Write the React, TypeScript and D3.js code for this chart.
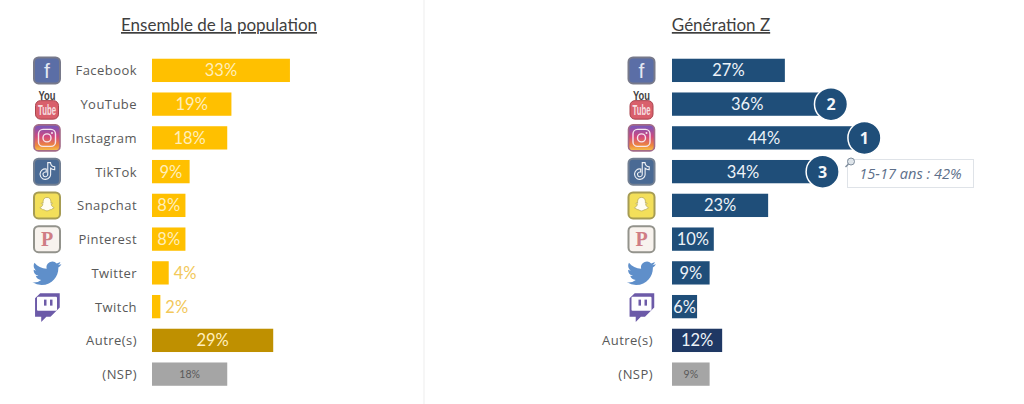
import { scaleBand, scaleLinear } from "d3";

const width = 1024;
const height = 404;

const categories = ["Facebook", "YouTube", "Instagram", "TikTok", "Snapchat", "Pinterest", "Twitter", "Twitch", "Autre(s)", "(NSP)"];
const populationValues = [33, 19, 18, 9, 8, 8, 4, 2, 29, 18];
const genZValues = [27, 36, 44, 34, 23, 10, 9, 6, 12, 9];
const genZLabels = ["Autre(s)", "(NSP)"];
const genZRanks = [
  { category: "Instagram", rank: 1 },
  { category: "YouTube", rank: 2 },
  { category: "TikTok", rank: 3 },
];
const calloutText = "15-17 ans : 42%";

const labelFont = "'Open Sans', sans-serif";
const valueFont = "Lato, sans-serif";

const y = scaleBand<string>().domain(categories).range([53.5, 391]).paddingInner(0.31).paddingOuter(0.155);
const x = scaleLinear().domain([0, 10]).range([0, 41.8]);

const TWITTER = "M23.953 4.57a10 10 0 01-2.825.775 4.958 4.958 0 002.163-2.723c-.951.555-2.005.959-3.127 1.184a4.92 4.92 0 00-8.384 4.482C7.69 8.095 4.067 6.13 1.64 3.162a4.822 4.822 0 00-.666 2.475c0 1.71.87 3.213 2.188 4.096a4.904 4.904 0 01-2.228-.616v.06a4.923 4.923 0 003.946 4.827 4.996 4.996 0 01-2.212.085 4.936 4.936 0 004.604 3.417 9.867 9.867 0 01-6.102 2.105c-.39 0-.779-.023-1.17-.067a13.995 13.995 0 007.557 2.209c9.053 0 13.998-7.496 13.998-13.985 0-.21 0-.42-.015-.63A9.935 9.935 0 0024 4.59z";
const TIKTOK = "M12.525.02c1.31-.02 2.61-.01 3.91-.02.08 1.53.63 3.09 1.75 4.17 1.12 1.11 2.7 1.62 4.24 1.79v4.03c-1.44-.05-2.89-.35-4.2-.97-.57-.26-1.1-.59-1.62-.93-.01 2.92.01 5.84-.02 8.75-.08 1.4-.54 2.79-1.35 3.94-1.31 1.92-3.58 3.17-5.91 3.21-1.43.08-2.86-.31-4.08-1.03-2.02-1.19-3.44-3.37-3.65-5.71-.02-.5-.03-1-.01-1.49.18-1.9 1.12-3.72 2.58-4.96 1.66-1.44 3.98-2.13 6.15-1.72.02 1.48-.04 2.96-.04 4.44-.99-.32-2.15-.23-3.02.37-.63.41-1.11 1.04-1.36 1.75-.21.51-.15 1.07-.14 1.61.24 1.64 1.82 3.02 3.5 2.87 1.12-.01 2.19-.66 2.77-1.61.19-.33.4-.67.41-1.06.1-1.79.06-3.57.07-5.36.01-4.03-.01-8.05.02-12.07z";
const GHOST = "M12 2c3.2 0 5.2 2.4 5.2 5.4v2.4l1.8-.4c.6 0 .8.8.2 1.1l-1.7.9c.5 1.9 1.9 3.4 3.7 4.1.5.2.4.8-.1 1-.9.3-1.8.4-2.2.7-.3.4-.1 1-.7 1.1-1.1.1-2 0-3 .6-.8.5-1.7 1.2-3.2 1.2s-2.4-.7-3.2-1.2c-1-.6-1.9-.5-3-.6-.6-.1-.4-.7-.7-1.1-.4-.3-1.3-.4-2.2-.7-.5-.2-.6-.8-.1-1 1.8-.7 3.2-2.2 3.7-4.1l-1.7-.9c-.6-.3-.4-1.1.2-1.1l1.8.4V7.4C6.8 4.4 8.8 2 12 2z";
const TWITCH = "M6 0L1.714 4.286v15.428h5.143V24l4.286-4.286h3.428L22.286 12V0z";

const Tile = ({ fill, stroke, sw = 1.6 }: { fill: string; stroke: string; sw?: number }) => (
  <rect x={-13} y={-13} width={26} height={26} rx={4.5} fill={fill} stroke={stroke} strokeWidth={sw} />
);

const Icon = ({ name, cx, cy }: { name: string; cx: number; cy: number }) => {
  let body = null;
  if (name === "Facebook") {
    body = (
      <>
        <Tile fill="#5b6ea6" stroke="#77798a" sw={2} />
        <text y={8} textAnchor="middle" fontFamily="'Liberation Sans', sans-serif" fontSize={21} fill="#e4e8f2">f</text>
      </>
    );
  } else if (name === "YouTube") {
    body = (
      <>
        <text y={-4.5} textAnchor="middle" fontFamily="'Liberation Sans', sans-serif" fontWeight={700} fontSize={13.5} fill="#454242" textLength={17} lengthAdjust="spacingAndGlyphs">You</text>
        <rect x={-11.5} y={-3.5} width={23} height={18.5} rx={5} fill="#d9606c" stroke="#a8454f" strokeWidth={1} />
        <text y={11} textAnchor="middle" fontFamily="'Liberation Sans', sans-serif" fontWeight={700} fontSize={14} fill="#f6dfe1" textLength={18} lengthAdjust="spacingAndGlyphs">Tube</text>
      </>
    );
  } else if (name === "Instagram") {
    body = (
      <>
        <Tile fill="url(#insta)" stroke="#a26a86" />
        <rect x={-8.5} y={-8.5} width={17} height={17} rx={4.5} fill="none" stroke="#f6e6ee" strokeWidth={1.4} />
        <circle r={4} fill="none" stroke="#f6e6ee" strokeWidth={1.4} />
        <circle cx={5} cy={-5} r={1} fill="#f6e6ee" />
      </>
    );
  } else if (name === "TikTok") {
    body = (
      <>
        <Tile fill="#4a6a94" stroke="#727f92" sw={2} />
        <path d={TIKTOK} transform="translate(-8,-9) scale(0.7)" fill="none" stroke="#eef1f5" strokeWidth={1.6} />
      </>
    );
  } else if (name === "Snapchat") {
    body = (
      <>
        <Tile fill="#f3df5a" stroke="#a69c54" sw={2} />
        <path d={GHOST} transform="translate(-9,-9.5) scale(0.75)" fill="#fffdf2" stroke="#b5a95c" strokeWidth={1} />
      </>
    );
  } else if (name === "Pinterest") {
    body = (
      <>
        <Tile fill="#f8f3ee" stroke="#93938c" sw={2} />
        <text y={7} textAnchor="middle" fontFamily="'Liberation Serif', serif" fontWeight={700} fontSize={20} fill="#cf7d84">P</text>
      </>
    );
  } else if (name === "Twitter") {
    body = <path d={TWITTER} transform="translate(-14.5,-14) scale(1.2)" fill="#5f8fca" />;
  } else if (name === "Twitch") {
    body = (
      <>
        <path d={TWITCH} transform="translate(-14,-13.5) scale(1.2)" fill="#6c5aa8" />
        <rect x={-10} y={-10} width={20} height={14} rx={1} fill="#fdfdff" />
        <rect x={-3} y={-7} width={2.5} height={6} fill="#6c5aa8" />
        <rect x={3} y={-7} width={2.5} height={6} fill="#6c5aa8" />
      </>
    );
  }
  return <g transform={`translate(${cx},${cy})`}>{body}</g>;
};

const barColor = (cat: string, main: string, other: string) =>
  cat === "(NSP)" ? "#a5a5a5" : cat === "Autre(s)" ? other : main;

const Panel = ({
  title, titleX, values, labels, barX, iconX, labelX, main, other, valueColor, outsideColor,
}: {
  title: string; titleX: number; values: number[]; labels: string[]; barX: number; iconX: number; labelX: number;
  main: string; other: string; valueColor: string; outsideColor: string;
}) => (
  <g>
    <text x={titleX} y={31} textAnchor="middle" fontFamily={valueFont} fontSize={17} fill="#3f3f3f" textDecoration="underline">{title}</text>
    {categories.map((cat, i) => {
      const v = values[i];
      const top = y(cat)!;
      const h = y.bandwidth();
      const cy = top + h / 2;
      const w = x(v);
      const nsp = cat === "(NSP)";
      const outside = w < 20;
      return (
        <g key={cat}>
          <Icon name={cat} cx={iconX} cy={cy} />
          {labels.includes(cat) && (
            <text x={labelX} y={cy + 5} textAnchor="end" fontFamily={labelFont} fontSize={13} letterSpacing={0.45} fill="#595959">
              {cat}
            </text>
          )}
          <rect x={barX} y={top} width={w} height={h} fill={barColor(cat, main, other)} />
          <text
            x={outside ? barX + w + 5 : barX + w / 2}
            y={cy + (nsp ? 4 : 6)}
            textAnchor={outside ? "start" : "middle"}
            fontFamily={valueFont}
            fontSize={nsp ? 10.5 : 16.5}
            fill={nsp ? "#595959" : outside ? outsideColor : valueColor}
          >
            {v}%
          </text>
        </g>
      );
    })}
  </g>
);

export default function App() {
  const genZX = 672;
  return (
    <svg width={width} height={height} style={{ position: "absolute", left: 0, top: 0, background: "#fff" }}>
      <defs>
        <linearGradient id="insta" x1="0" y1="0" x2="0" y2="1">
          <stop offset="0" stopColor="#6f58c0" />
          <stop offset="0.45" stopColor="#d2487f" />
          <stop offset="0.8" stopColor="#ee8a3c" />
          <stop offset="1" stopColor="#f6c64f" />
        </linearGradient>
      </defs>
      <line x1={424} x2={424} y1={0} y2={height} stroke="#ededed" />
      <Panel title="Ensemble de la population" titleX={219} values={populationValues} labels={categories} barX={152} iconX={47} labelX={137}
        main="#ffc000" other="#bf9000" valueColor="#ffeebb" outsideColor="#f2c85a" />
      <Panel title="Génération Z" titleX={721} values={genZValues} labels={genZLabels} barX={genZX} iconX={641.5} labelX={653}
        main="#1f4e79" other="#1f3864" valueColor="#eef3f8" outsideColor="#1f4e79" />
      {genZRanks.map((d) => {
        const i = categories.indexOf(d.category);
        const cx = genZX + x(genZValues[i]) + 8.5;
        const cy = y(d.category)! + y.bandwidth() / 2;
        return (
          <g key={d.rank}>
            <circle cx={cx} cy={cy} r={16.5} fill="#1f4e79" stroke="#fff" strokeWidth={1.5} />
            <text x={cx} y={cy + 6} textAnchor="middle" fontFamily={labelFont} fontWeight={700} fontSize={16} fill="#f4f6f9">{d.rank}</text>
          </g>
        );
      })}
      <rect x={847.5} y={159.5} width={126} height={28} fill="#fff" stroke="#dfe3e8" />
      <text x={910.5} y={179} textAnchor="middle" fontFamily={labelFont} fontStyle="italic" fontSize={14.6} fill="#5d6f8a">{calloutText}</text>
      <g stroke="#7f8d9c" fill="#dfe5ea">
        <circle cx={851} cy={161.5} r={3.5} />
        <line x1={848.5} y1={164} x2={845.5} y2={167} strokeWidth={1.5} />
      </g>
    </svg>
  );
}
